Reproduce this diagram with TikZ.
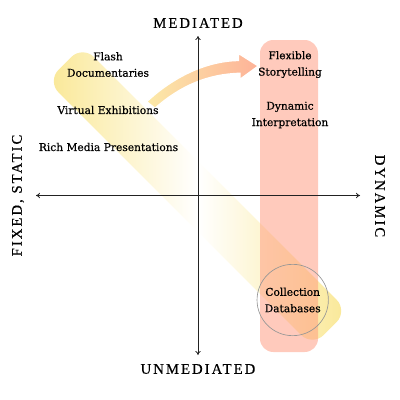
\documentclass[tikz,border=0pt]{standalone}
\usepackage{fontspec}
\setmainfont{DejaVu Serif}[FakeBold=0.5]
\newfontfamily\capsfont[LetterSpace=14,FakeBold=0.4]{Liberation Serif}
\usetikzlibrary{arrows.meta}

\definecolor{bandyellow}{RGB}{250,232,150}
\definecolor{arrowyellow}{RGB}{252,234,168}
\definecolor{arrowsalmon}{RGB}{253,178,152}
\definecolor{salmon}{RGB}{255,150,122}
\definecolor{axisgray}{RGB}{34,34,34}

\tikzset{every picture/.style={line width=0.75pt}}
\tikzset{
  axisline/.style={draw=axisgray, line width=0.6pt, {To[length=3pt,width=4pt]}-{To[length=3pt,width=4pt]}},
  quadtext/.style={font=\fontsize{8}{12.3}\selectfont, align=center, inner sep=0.75pt},
  axistext/.style={font=\capsfont\fontsize{11}{13}\selectfont, inner sep=0.75pt}
}

\begin{document}
\begin{tikzpicture}[x=0.75pt,y=0.75pt,yscale=-1,xscale=1]
\useasboundingbox (0,0) rectangle (400,400);

%Shape: Rounded Rectangle [id:band]
\draw [rounded corners=12, draw=none, left color=bandyellow, right color=bandyellow, middle color=white]  (82.6,45.7) -- (347.8,310.9) -- (312.4,346.3) -- (47.2,81.1) -- cycle ;
%Shape: Rounded Rectangle [id:column]
\fill [salmon, fill opacity=0.5, rounded corners=10]  (260,40) rectangle (318,352) ;
%Shape: Curved Arrow [id:shift]
\draw [draw=white, line width=1pt, left color=arrowyellow, right color=arrowsalmon]  (146.7,101.7) .. controls (172,78) and (205,61) .. (238.5,60.5) -- (238.3,53.3) -- (258.3,66) -- (240,79.3) -- (240,73.3) .. controls (208,74) and (180,86) .. (155,108.3) -- cycle ;

%Axis ends
\coordinate (top) at (198,36);
\coordinate (bottom) at (198,355);
\coordinate (left) at (36,195.5);
\coordinate (right) at (360,195.5);
%Shape: Axis 2D
\draw [axisline] (left) -- (right);
\draw [axisline] (bottom) -- (top);

% Text Node
\node (mediated) [axistext] at (198,23) {MEDIATED};
% Text Node
\node (unmediated) [axistext] at (198,369) {UNMEDIATED};
% Text Node
\node (fixed) [axistext, rotate=90] at (18,195.5) {FIXED, STATIC};
% Text Node
\node (dynamicaxis) [axistext, rotate=-90] at (380,196) {DYNAMIC};

% Text Node
\node (flash) [quadtext] at (108,64.5) {Flash\\Documentaries};
% Text Node
\node (virtual) [quadtext] at (108,110) {Virtual Exhibitions};
% Text Node
\node (rich) [quadtext] at (108.5,147) {Rich Media Presentations};
% Text Node
\node (flexible) [quadtext] at (290,64.5) {Flexible\\Storytelling};
% Text Node
\node (interp) [quadtext] at (290,115) {Dynamic\\Interpretation};
% Circle Node
\node (collection) [quadtext, circle, draw={rgb,255:red,150;green,150;blue,150}, line width=0.5pt, minimum size=53.5pt] at (292.7,300) {Collection\\Databases};

\end{tikzpicture}
\end{document}
